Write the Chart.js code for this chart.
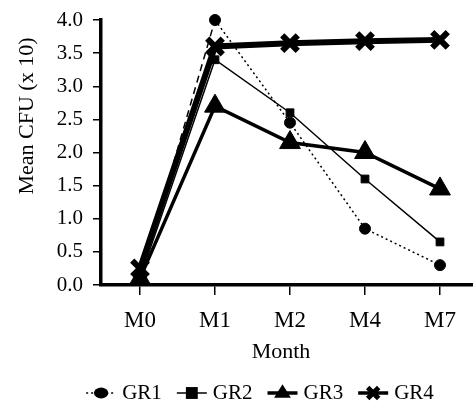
<!DOCTYPE html>
<html><head><meta charset="utf-8">
<script src="https://cdn.jsdelivr.net/npm/chart.js@4.4.1/dist/chart.umd.min.js"></script>
<style>html,body{margin:0;padding:0;background:#fff}#wrap{width:473px;height:404px;position:relative}</style>
</head><body><div id="wrap"><canvas id="c" width="473" height="404"></canvas></div>
<script>
// ---- data ----
const months = ['M0', 'M1', 'M2', 'M4', 'M7'];
const seriesNames = ['GR1', 'GR2', 'GR3', 'GR4'];
const gr1 = [0.1, 4.0, 2.45, 0.85, 0.3];
const gr2 = [0.1, 3.4, 2.6, 1.6, 0.65];
const gr3 = [0.1, 2.7, 2.15, 2.0, 1.45];
const gr4 = [0.25, 3.6, 3.65, 3.68, 3.7];
const yTicks = [0, 0.5, 1.0, 1.5, 2.0, 2.5, 3.0, 3.5, 4.0];
const yTitle = 'Mean CFU (x 10)';
const xTitle = 'Month';

const FONT = "'Liberation Serif', 'Times New Roman', serif";
const toXY = arr => arr.map((v, i) => ({ x: i, y: v }));

const styles = [
  { pointStyle: 'circle', pointRadius: 5.5, borderWidth: 1.5, pointBorderWidth: 1, dash: [2, 3], firstDash: [7, 5], order: 4 },
  { pointStyle: 'rect', pointRadius: 5.5, borderWidth: 1.5, pointBorderWidth: 1, dash: [], firstDash: [], order: 3 },
  { pointStyle: 'triangle', pointRadius: 12, borderWidth: 3.5, pointBorderWidth: 1, dash: [], firstDash: [], order: 2 },
  { pointStyle: 'crossRot', pointRadius: 11, borderWidth: 6, pointBorderWidth: 6, dash: [], firstDash: [], order: 1 }
];
const values = [gr1, gr2, gr3, gr4];

const datasets = seriesNames.map((name, k) => {
  const s = styles[k];
  return {
    label: name,
    data: toXY(values[k]),
    borderColor: '#000',
    backgroundColor: '#000',
    borderWidth: s.borderWidth,
    pointStyle: s.pointStyle,
    pointRadius: s.pointRadius,
    pointBorderWidth: s.pointBorderWidth,
    pointBackgroundColor: '#000',
    pointBorderColor: '#000',
    tension: 0,
    clip: false,
    order: s.order,
    segment: { borderDash: ctx => (ctx.p0DataIndex === 0 ? s.firstDash : s.dash) }
  };
});

function drawMarker(ctx, style, r, x, y, bw) {
  ctx.save();
  ctx.fillStyle = '#000'; ctx.strokeStyle = '#000'; ctx.setLineDash([]);
  ctx.beginPath();
  if (style === 'circle') {
    ctx.ellipse(x, y, r * 1.2, r * 0.9, 0, 0, Math.PI * 2); ctx.fill();
  } else if (style === 'rect') {
    const s = r * Math.SQRT1_2 * 1.4;
    ctx.fillRect(x - s, y - s, 2 * s, 2 * s);
  } else if (style === 'triangle') {
    const h = r * 0.8;
    ctx.moveTo(x, y - h); ctx.lineTo(x + h * 0.95, y + h * 0.55); ctx.lineTo(x - h * 0.95, y + h * 0.55); ctx.closePath(); ctx.fill();
  } else if (style === 'crossRot') {
    const d = r * 0.5;
    ctx.lineWidth = bw * 0.8;
    ctx.moveTo(x - d, y - d); ctx.lineTo(x + d, y + d);
    ctx.moveTo(x + d, y - d); ctx.lineTo(x - d, y + d); ctx.stroke();
  }
  ctx.restore();
}

const extras = {
  id: 'extras',
  afterDraw(chart) {
    const ctx = chart.ctx;
    // axis titles
    ctx.save();
    ctx.fillStyle = '#000';
    ctx.font = '22px ' + FONT;
    ctx.textAlign = 'center'; ctx.textBaseline = 'middle';
    ctx.fillText(xTitle, 281, 352);
    ctx.translate(27, 116); ctx.rotate(-Math.PI / 2);
    ctx.fillText(yTitle, 0, 0);
    ctx.restore();
    // legend
    ctx.save();
    ctx.font = '21px ' + FONT;
    ctx.textBaseline = 'middle';
    const keyW = 30, gapKT = 6, gapItem = 15, ly = 393;
    const widths = seriesNames.map(n => ctx.measureText(n).width);
    const total = widths.reduce((a, w) => a + keyW + gapKT + w, 0) + gapItem * (seriesNames.length - 1);
    let x = 260 - total / 2;
    seriesNames.forEach((n, k) => {
      const s = styles[k];
      ctx.save();
      ctx.strokeStyle = '#000';
      ctx.lineWidth = Math.min(s.borderWidth, 3.5);
      ctx.setLineDash(s.dash);
      ctx.beginPath(); ctx.moveTo(x, ly); ctx.lineTo(x + keyW, ly); ctx.stroke();
      ctx.restore();
      drawMarker(ctx, s.pointStyle, s.pointStyle === 'circle' ? 6 : (s.pointStyle === 'rect' ? 6 : 11), x + keyW / 2, ly, 6);
      ctx.fillStyle = '#000';
      ctx.fillText(n, x + keyW + gapKT, ly);
      x += keyW + gapKT + widths[k] + gapItem;
    });
    ctx.restore();
  }
};

new Chart(document.getElementById('c'), {
  type: 'line',
  data: { datasets },
  plugins: [extras],
  options: {
    responsive: false,
    animation: false,
    devicePixelRatio: 1,
    layout: { autoPadding: false, padding: { top: 20, right: 0, left: 0, bottom: 30 } },
    plugins: { legend: { display: false }, tooltip: { enabled: false } },
    scales: {
      x: {
        type: 'linear',
        min: -0.52, max: 4.44,
        afterFit: s => { s.height = 404 - 30 - 285; s.paddingLeft = 0; s.paddingRight = 0; },
        afterBuildTicks: s => { s.ticks = months.map((_, i) => ({ value: i })); },
        ticks: { callback: v => months[v], color: '#000', font: { family: FONT, size: 23 }, padding: 12, maxRotation: 0, autoSkip: false },
        grid: { drawOnChartArea: false, drawTicks: true, tickLength: 10, color: '#000', lineWidth: 1.5 },
        border: { color: '#000', width: 3.5 }
      },
      y: {
        min: 0, max: 4,
        afterFit: s => { s.width = 101; s.paddingTop = 0; s.paddingBottom = 0; },
        afterBuildTicks: s => { s.ticks = yTicks.map(v => ({ value: v })); },
        ticks: { callback: v => Number(v).toFixed(1), color: '#000', font: { family: FONT, size: 21 }, padding: 10 },
        grid: { drawOnChartArea: false, drawTicks: true, tickLength: 8, color: '#000', lineWidth: 1.5 },
        border: { color: '#000', width: 3.5 }
      }
    }
  }
});
</script></body></html>
